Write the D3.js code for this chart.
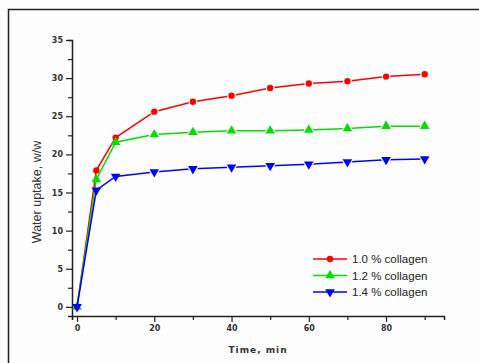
<!DOCTYPE html>
<html><head><meta charset="utf-8">
<script src="https://cdn.jsdelivr.net/npm/d3@7"></script>
<style>body{margin:0;background:#fff;}svg{display:block;}</style>
</head><body>
<svg id="c" width="479" height="363"></svg>
<script>
const times = [0, 5, 10, 20, 30, 40, 50, 60, 70, 80, 90];
const collagen10 = [0, 17.9, 22.2, 25.6, 26.9, 27.7, 28.7, 29.3, 29.6, 30.2, 30.5];
const collagen12 = [0, 16.7, 21.6, 22.6, 22.9, 23.1, 23.1, 23.2, 23.4, 23.7, 23.7];
const collagen14 = [0, 15.3, 17.1, 17.7, 18.1, 18.3, 18.5, 18.7, 19.0, 19.3, 19.4];
const seriesNames = ["1.0 % collagen", "1.2 % collagen", "1.4 % collagen"];
const xTickLabels = [0, 20, 40, 60, 80];
const yTickLabels = [0, 5, 10, 15, 20, 25, 30, 35];

const svg = d3.select("#c");
svg.append("rect").attr("width",479).attr("height",363).attr("fill","#fdfdfd");
svg.append("path").attr("d","M8.5,363 V9.5 H479").attr("fill","none").attr("stroke","#222").attr("stroke-width",1.5);

const x = d3.scaleLinear().domain([-1.3, 95]).range([72, 444]);
const y = d3.scaleLinear().domain([-1.2, 35]).range([316, 40]);

// axes
const gx = svg.append("g").attr("transform","translate(0,316)");
gx.call(d3.axisBottom(x).tickValues(d3.range(0,91,10)).tickSize(4).tickFormat(d => xTickLabels.includes(d) ? d : ""));
const gy = svg.append("g").attr("transform","translate(72,0)");
gy.call(d3.axisLeft(y).tickValues(d3.range(0,35.1,2.5)).tickSize(4).tickFormat(d => yTickLabels.includes(d) ? d : ""));
[gx, gy].forEach(g => {
  g.select(".domain").attr("stroke","#222").attr("stroke-width",1.5);
  g.selectAll(".tick line").attr("stroke","#222").attr("stroke-width",1.2);
  g.selectAll("text").attr("fill","#333").attr("font-family","Verdana, DejaVu Sans, sans-serif").attr("font-size",8).attr("font-weight","bold");
});
gy.selectAll(".tick").each(function(d){ d3.select(this).select("line").attr("x2", yTickLabels.includes(d) ? -6 : -4); });
gx.selectAll(".tick").each(function(d){ d3.select(this).select("line").attr("y2", xTickLabels.includes(d) ? 6 : 4); });
gx.selectAll("text").attr("dy","0.9em").attr("y",8);
gy.selectAll("text").attr("x",-9);

svg.append("text").attr("x",258).attr("y",353).attr("text-anchor","middle")
  .attr("font-family","Verdana, DejaVu Sans, sans-serif").attr("font-size",9).attr("font-weight","bold")
  .attr("letter-spacing",1).attr("fill","#333").text("Time, min");
svg.append("text").attr("transform","translate(41,192) rotate(-90)").attr("text-anchor","middle")
  .attr("font-family","Arial, Liberation Sans, sans-serif").attr("font-size",12.5).attr("fill","#333")
  .text("Water uptake, w/w");

const series = [
  {name: seriesNames[0], vals: collagen10, color: "#ff0000", sym: d3.symbolCircle},
  {name: seriesNames[1], vals: collagen12, color: "#00e000", sym: d3.symbolTriangle},
  {name: seriesNames[2], vals: collagen14, color: "#0000ff", sym: "down"}
];
function marker(g, s, cx, cy, gap) {
  const size = s.sym === d3.symbolCircle ? 32 : 40;
  const p = g.append("path")
    .attr("d", d3.symbol(s.sym === "down" ? d3.symbolTriangle : s.sym, size)())
    .attr("transform", `translate(${cx},${cy})` + (s.sym === "down" ? " rotate(180)" : ""))
    .attr("fill", s.color);
  if (gap) p.attr("stroke","#fdfdfd").attr("stroke-width",2.4).attr("paint-order","stroke");
}
const line = d3.line().x((d,i)=>x(times[i])).y(d=>y(d));
series.forEach(s => {
  const g = svg.append("g");
  g.append("path").attr("d", line(s.vals)).attr("fill","none").attr("stroke", s.color).attr("stroke-width",1.5);
  s.vals.forEach((v,i) => { if (times[i] >= 20) marker(g, s, x(times[i]), y(v), true); else marker(g, s, x(times[i]), y(v), false); });
});

// legend
series.forEach((s,i) => {
  const ly = 259 + i*16.5;
  const g = svg.append("g");
  g.append("line").attr("x1",313).attr("x2",347).attr("y1",ly).attr("y2",ly).attr("stroke",s.color).attr("stroke-width",1.5);
  marker(g, s, 330, ly, false);
  g.append("text").attr("x",352).attr("y",ly+4).attr("font-family","Arial, Liberation Sans, sans-serif")
    .attr("font-size",11.5).attr("fill","#222").text(s.name);
});
</script>
</body></html>
